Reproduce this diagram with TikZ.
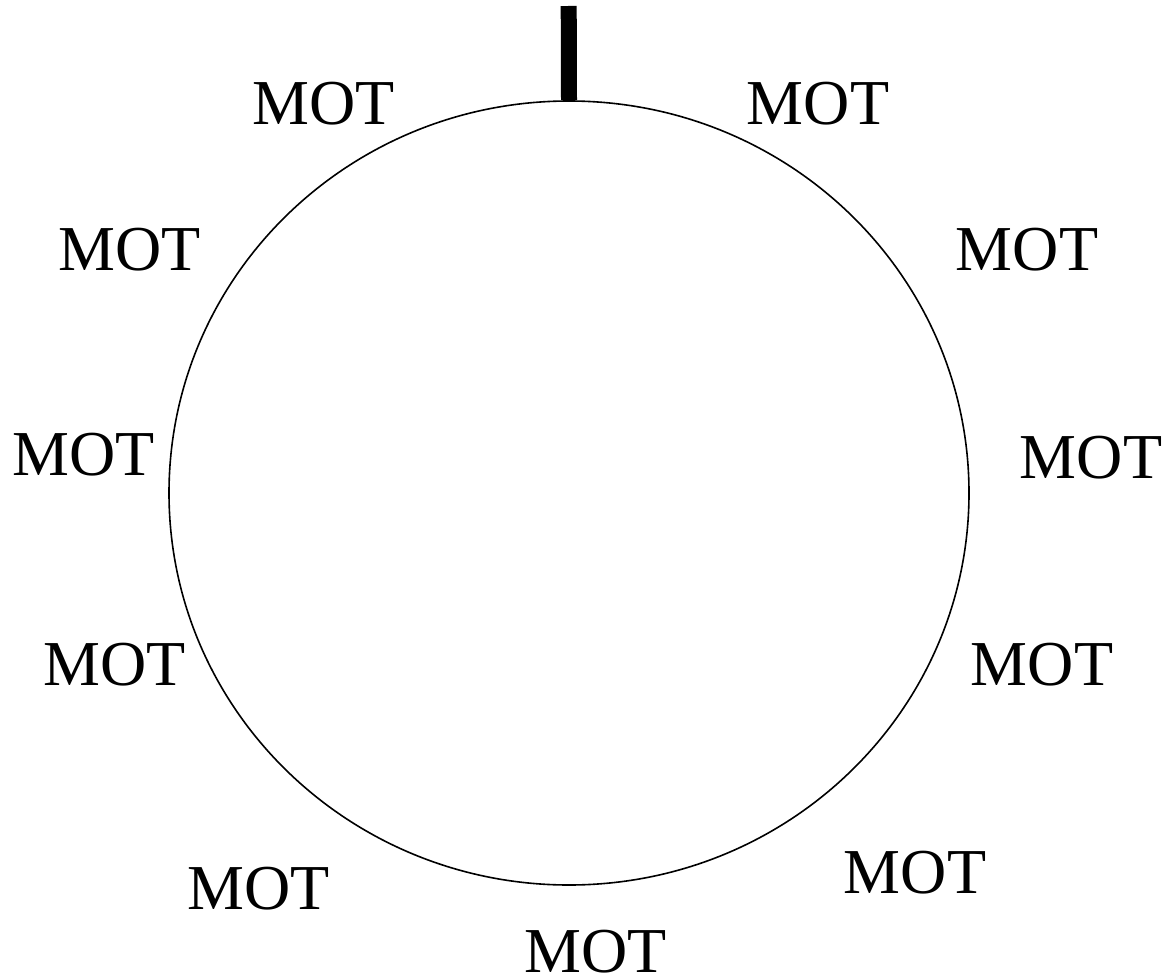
\documentclass[tikz,border=0pt]{standalone}
\usepackage{fontspec}
\setmainfont{Liberation Serif}
\usetikzlibrary{shapes.geometric}
\begin{document}
\begin{tikzpicture}[x=1pt,y=-1pt,
  lbl/.style={inner sep=0pt,font=\fontsize{64}{76}\selectfont},
  ring/.style={draw=black,line width=1.6pt}]
\useasboundingbox (0,0) rectangle (1166,979);
\node[ring,ellipse,minimum width=800pt,minimum height=784pt,inner sep=0pt] (c) at (569,493) {};
\coordinate (bartop) at (568.7,6);
\draw[line width=16pt] (bartop) -- (c.north);
\node[lbl] (l1) at (323.5,103.5) {MOT};
\node[lbl] (r1) at (818,103.5) {MOT};
\node[lbl] (l2) at (130,250) {MOT};
\node[lbl] (r2) at (1027,250) {MOT};
\node[lbl] (l3) at (83.5,455) {MOT};
\node[lbl] (r3) at (1091,458) {MOT};
\node[lbl] (l4) at (115,665) {MOT};
\node[lbl] (r4) at (1042,665) {MOT};
\node[lbl] (l5) at (259,889) {MOT};
\node[lbl] (r5) at (915,872.5) {MOT};
\node[lbl] (b) at (595.5,952) {MOT};
\end{tikzpicture}
\end{document}
